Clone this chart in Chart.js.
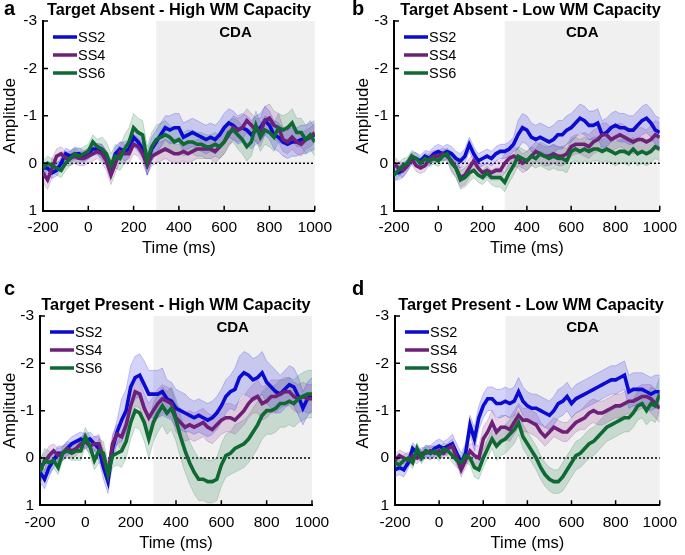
<!DOCTYPE html>
<html>
<head>
<meta charset="utf-8">
<script src="https://cdn.jsdelivr.net/npm/chart.js@4.4.0/dist/chart.umd.min.js"></script>
<style>
  body { margin: 0; background: #fff; }
  #wrap { position: relative; width: 685px; height: 555px; overflow: hidden; font-family: "Liberation Sans", Arial, sans-serif; color: #000; }
  canvas { position: absolute; }
  .lab { position: absolute; font-weight: bold; font-size: 20px; line-height: 20px; }
  .ttl { position: absolute; font-weight: bold; font-size: 16.3px; line-height: 16.3px; text-align: center; white-space: nowrap; }
</style>
</head>
<body>
<div id="wrap">
  <canvas id="cA" width="340" height="258" style="left:0;top:0"></canvas>
  <canvas id="cB" width="345" height="258" style="left:340px;top:0"></canvas>
  <canvas id="cC" width="340" height="283" style="left:0;top:270px"></canvas>
  <canvas id="cD" width="345" height="283" style="left:340px;top:270px"></canvas>
  <div class="lab" style="left:4px;top:-2px">a</div>
  <div class="lab" style="left:352px;top:-2px">b</div>
  <div class="lab" style="left:4px;top:278px">c</div>
  <div class="lab" style="left:352px;top:278px">d</div>
  <div class="ttl" style="left:43px;top:1px;width:272px">Target Absent - High WM Capacity</div>
  <div class="ttl" style="left:394px;top:1px;width:273px">Target Absent - Low WM Capacity</div>
  <div class="ttl" style="left:40px;top:295.5px;width:272px">Target Present - High WM Capacity</div>
  <div class="ttl" style="left:395px;top:295.5px;width:272px">Target Present - Low WM Capacity</div>
</div>
<script>
// time axis (ms) and ticks
const times = [-200,-180,-160,-140,-120,-100,-80,-60,-40,-20,0,20,40,60,80,100,120,140,160,180,200,220,240,260,280,300,320,340,360,380,400,420,440,460,480,500,520,540,560,580,600,620,640,660,680,700,720,740,760,780,800,820,840,860,880,900,920,940,960,980,1000];
const xTickValues = [-200, 0, 200, 400, 600, 800, 1000];
const yTickValues = [-3, -2, -1, 0, 1];
const seriesNames = ['SS2', 'SS4', 'SS6'];
const cdaStart = 300;
const cdaLabel = 'CDA';

// a - Target Absent, High WM Capacity
const absHighSS2 = [0.1,0.1,0.2,0.15,0.0,-0.2,-0.15,-0.2,-0.2,-0.15, -0.2,-0.3,-0.3,-0.25,-0.1,0.1,-0.2,-0.3,-0.25,-0.3, -0.55,-0.45,-0.3,0.0,-0.3,-0.45,-0.6,-0.75,-0.7,-0.75, -0.75,-0.55,-0.6,-0.65,-0.6,-0.55,-0.5,-0.55,-0.5,-0.6, -0.75,-0.85,-0.8,-0.7,-0.75,-0.7,-0.6,-0.7,-0.75,-0.9, -0.8,-0.6,-0.55,-0.45,-0.4,-0.45,-0.45,-0.5,-0.5,-0.55, -0.6];
const absHighSS4 = [0.2,0.35,0.1,-0.15,-0.2,-0.1,-0.1,-0.15,-0.1,-0.1, -0.15,-0.2,-0.25,-0.2,-0.05,0.25,0.0,-0.25,-0.2,-0.2, -0.4,-0.35,-0.2,0.05,-0.15,-0.2,-0.25,-0.3,-0.25,-0.2, -0.2,-0.25,-0.2,-0.25,-0.3,-0.3,-0.3,-0.3,-0.25,-0.35, -0.45,-0.6,-0.75,-0.7,-0.75,-0.9,-0.8,-0.7,-0.65,-0.9, -0.95,-0.8,-0.75,-0.5,-0.45,-0.55,-0.45,-0.4,-0.5,-0.55, -0.65];
const absHighSS6 = [0.1,0.0,0.05,0.1,0.15,0.0,-0.1,-0.2,-0.15,-0.2, -0.25,-0.45,-0.35,-0.3,-0.2,0.05,-0.15,-0.1,-0.3,-0.45, -0.75,-0.65,-0.6,-0.05,-0.35,-0.5,-0.55,-0.6,-0.55,-0.45, -0.5,-0.4,-0.45,-0.45,-0.4,-0.4,-0.35,-0.35,-0.4,-0.35, -0.45,-0.65,-0.7,-0.6,-0.5,-0.35,-0.45,-0.8,-0.55,-0.7, -0.65,-0.55,-0.75,-0.7,-0.75,-0.85,-0.65,-0.65,-0.5,-0.6, -0.45];

// b - Target Absent, Low WM Capacity
const absLowSS2 = [0.2,0.2,0.15,0.05,-0.1,-0.1,-0.05,-0.15,-0.1,-0.2, -0.25,-0.2,-0.25,-0.2,-0.1,-0.05,-0.15,-0.4,-0.2,-0.05, -0.1,-0.15,-0.1,-0.2,-0.25,-0.25,-0.3,-0.4,-0.6,-0.75, -0.7,-0.55,-0.5,-0.55,-0.5,-0.45,-0.5,-0.6,-0.6,-0.7, -0.75,-0.85,-0.95,-0.9,-0.8,-0.8,-0.85,-0.6,-0.65,-0.75, -0.8,-0.75,-0.75,-0.7,-0.7,-0.8,-0.9,-0.95,-0.85,-0.7, -0.65];
const absLowSS4 = [0.0,0.1,0.15,0.05,-0.1,0.05,0.1,0.05,-0.1,-0.15, -0.15,-0.2,-0.15,-0.05,0.1,0.3,0.25,0.1,-0.05,0.1, 0.2,0.15,0.2,0.15,0.15,0.0,-0.1,-0.15,-0.1,0.0, -0.05,-0.15,-0.25,-0.2,-0.15,-0.15,-0.2,-0.15,-0.15,-0.2, -0.35,-0.4,-0.4,-0.4,-0.35,-0.45,-0.5,-0.6,-0.6,-0.5, -0.55,-0.6,-0.55,-0.5,-0.45,-0.5,-0.5,-0.45,-0.5,-0.6, -0.55];
const absLowSS6 = [0.25,0.15,0.05,0.0,-0.15,-0.1,0.0,-0.1,-0.05,-0.1, -0.05,-0.15,-0.2,0.0,0.1,0.35,0.3,0.2,0.15,0.25, 0.3,0.2,0.3,0.3,0.3,0.4,0.2,0.05,-0.15,-0.1, -0.05,-0.15,-0.1,-0.2,-0.15,-0.1,-0.15,-0.1,-0.1,-0.05, -0.25,-0.3,-0.25,-0.3,-0.25,-0.3,-0.3,-0.25,-0.3,-0.25, -0.2,-0.25,-0.25,-0.2,-0.3,-0.2,-0.25,-0.2,-0.25,-0.35, -0.3];

// c - Target Present, High WM Capacity
const presHighSS2 = [0.3,0.45,0.2,0.05,-0.1,-0.1,-0.2,-0.3,-0.35,-0.4, -0.35,-0.4,-0.3,-0.2,0.2,0.5,-0.2,-0.55,-0.8,-1.0, -1.5,-1.7,-1.75,-1.55,-1.35,-1.35,-1.35,-1.4,-1.25,-1.2, -1.05,-1.0,-0.95,-0.9,-0.85,-0.9,-0.85,-0.8,-0.85,-0.95, -1.1,-1.3,-1.4,-1.45,-1.7,-1.8,-1.75,-1.65,-1.7,-1.8, -1.6,-1.5,-1.4,-1.35,-1.45,-1.55,-1.5,-1.3,-1.05,-1.25, -1.35];
const presHighSS4 = [0.2,0.1,-0.05,-0.15,-0.05,-0.1,-0.2,-0.15,-0.2,-0.3, -0.35,-0.25,-0.3,-0.3,0.0,0.35,-0.3,-0.5,-0.45,-0.7, -1.1,-1.4,-1.35,-1.05,-0.85,-1.0,-1.15,-1.25,-1.2,-1.15, -0.85,-0.75,-0.65,-0.7,-0.65,-0.7,-0.75,-0.65,-0.6,-0.7, -0.8,-0.85,-0.85,-0.8,-0.9,-1.0,-1.15,-1.25,-1.3,-1.15, -1.2,-1.3,-1.3,-1.35,-1.4,-1.4,-1.3,-1.25,-1.3,-1.25, -1.25];
const presHighSS6 = [0.3,0.05,0.1,0.05,0.2,-0.1,-0.15,-0.1,-0.15,-0.15, -0.45,-0.25,0.05,-0.15,-0.1,0.35,-0.05,-0.1,-0.15,-0.35, -0.75,-1.0,-0.95,-0.75,-0.4,-0.75,-0.95,-1.1,-0.95,-1.05, -0.8,-0.45,-0.15,0.1,0.3,0.45,0.45,0.5,0.5,0.45, 0.15,-0.05,-0.1,-0.2,-0.25,-0.3,-0.4,-0.55,-0.7,-0.9, -1.0,-1.0,-1.05,-1.15,-1.15,-1.2,-1.15,-1.25,-1.3,-1.35, -1.35];

// d - Target Present, Low WM Capacity
const presLowSS2 = [0.25,0.2,0.25,0.1,-0.2,-0.1,-0.05,-0.15,-0.1,-0.2, -0.25,-0.2,-0.25,-0.3,-0.1,0.1,-0.1,-0.7,-0.4,-0.85, -1.1,-1.25,-1.25,-1.15,-1.15,-1.2,-1.15,-1.2,-1.4,-1.2, -1.1,-1.05,-1.05,-1.0,-0.95,-0.9,-1.0,-1.15,-1.2,-1.3, -1.15,-1.25,-1.3,-1.35,-1.4,-1.45,-1.5,-1.55,-1.6,-1.65, -1.65,-1.7,-1.75,-1.4,-1.45,-1.45,-1.45,-1.4,-1.35,-1.4, -1.4];
const presLowSS4 = [0.05,-0.05,0.0,0.05,-0.05,0.0,-0.1,-0.1,-0.15,-0.1, -0.15,-0.1,-0.2,-0.25,0.0,0.25,0.05,-0.15,-0.05,0.0, -0.4,-0.55,-0.75,-0.55,-0.65,-0.65,-0.6,-0.75,-0.9,-0.8, -0.8,-0.75,-0.7,-0.55,-0.45,-0.55,-0.65,-0.6,-0.55,-0.55, -0.65,-0.75,-0.8,-0.85,-0.95,-1.0,-0.95,-0.95,-1.0,-1.05, -1.1,-1.1,-1.15,-1.2,-1.2,-1.25,-1.3,-1.3,-1.25,-1.15, -1.05];
const presLowSS6 = [0.1,0.15,0.05,0.0,0.1,-0.2,0.0,-0.15,-0.1,-0.15, -0.05,-0.2,-0.15,-0.05,0.05,0.1,-0.05,0.0,0.2,0.25, 0.0,-0.2,-0.4,-0.25,-0.35,-0.4,-0.5,-0.6,-0.75,-0.45, -0.3,-0.15,0.0,0.2,0.35,0.45,0.5,0.5,0.4,0.25, 0.1,-0.05,-0.1,-0.2,-0.3,-0.35,-0.45,-0.55,-0.65,-0.7, -0.75,-0.8,-0.85,-0.85,-0.95,-1.1,-1.15,-1.0,-1.15,-1.1, -1.35];

// half-width of shaded error bands, per 100 ms bin (-200 ... 1000)
const semBins = [-200,-100,0,100,200,300,400,500,600,700,800,900,1000];
const absHighSem = [[0.12,0.12,0.12,0.15,0.2,0.25,0.3,0.3,0.3,0.3,0.3,0.3,0.3],[0.2,0.15,0.15,0.2,0.2,0.2,0.2,0.2,0.25,0.25,0.3,0.25,0.2],[0.15,0.15,0.15,0.25,0.3,0.3,0.25,0.25,0.25,0.3,0.3,0.3,0.3]];
const absLowSem = [[0.15,0.12,0.15,0.15,0.15,0.15,0.3,0.3,0.3,0.3,0.3,0.3,0.3],[0.15,0.12,0.12,0.2,0.15,0.2,0.2,0.2,0.2,0.25,0.25,0.25,0.3],[0.15,0.12,0.12,0.2,0.15,0.2,0.2,0.25,0.25,0.25,0.25,0.25,0.25]];
const presHighSem = [[0.2,0.15,0.15,0.25,0.45,0.5,0.4,0.35,0.35,0.45,0.45,0.4,0.35],[0.2,0.15,0.15,0.2,0.3,0.3,0.3,0.3,0.3,0.3,0.35,0.3,0.3],[0.25,0.15,0.2,0.25,0.35,0.4,0.45,0.45,0.45,0.5,0.5,0.5,0.5]];
const presLowSem = [[0.15,0.12,0.15,0.2,0.25,0.3,0.3,0.3,0.3,0.3,0.3,0.35,0.35],[0.12,0.12,0.12,0.15,0.25,0.25,0.25,0.2,0.2,0.25,0.25,0.25,0.3],[0.12,0.12,0.12,0.15,0.2,0.3,0.25,0.25,0.3,0.3,0.3,0.3,0.35]];

// colours
const lineColors = ['#0a0ad2', '#6e2078', '#0f6932'];
const bandColors = ['rgba(60,60,235,0.22)', 'rgba(140,60,150,0.20)', 'rgba(40,130,80,0.20)'];
const bandEdges = ['rgba(60,60,235,0.35)', 'rgba(140,60,150,0.30)', 'rgba(40,130,80,0.30)'];

const FONT = '"Liberation Sans", Arial, sans-serif';
Chart.defaults.font.family = FONT;
Chart.defaults.color = '#000';

function semAt(sem, t) {
    return sem[semBins.indexOf(Math.round((t + 200) / 100) * 100 - 200)];
}

// gray CDA window, dotted zero line, inward ticks, legend
const decor = {
    id: 'decor',
    beforeDraw(chart) {
        const { ctx, chartArea: a, scales: { x } } = chart;
        const x0 = x.getPixelForValue(cdaStart);
        ctx.save();
        ctx.fillStyle = '#f0f0f0';
        ctx.fillRect(x0, a.top, a.right - x0, a.bottom - a.top);
        ctx.restore();
    },
    beforeDatasetsDraw(chart) {
        const { ctx, chartArea: a, scales: { y } } = chart;
        const y0 = y.getPixelForValue(0);
        ctx.save();
        ctx.strokeStyle = '#000';
        ctx.lineWidth = 1.5;
        ctx.setLineDash([2, 2]);
        ctx.beginPath();
        ctx.moveTo(a.left, y0);
        ctx.lineTo(a.right, y0);
        ctx.stroke();
        ctx.restore();
    },
    afterDraw(chart) {
        const { ctx, chartArea: a, scales: { x, y } } = chart;
        ctx.save();
        ctx.strokeStyle = '#000';
        ctx.lineWidth = 1.5;
        ctx.beginPath();
        yTickValues.forEach(v => { const p = y.getPixelForValue(v); ctx.moveTo(a.left, p); ctx.lineTo(a.left + 5, p); });
        xTickValues.forEach(v => { const p = x.getPixelForValue(v); ctx.moveTo(p, a.bottom); ctx.lineTo(p, a.bottom - 5); });
        ctx.stroke();

        // CDA label
        const x0 = x.getPixelForValue(cdaStart);
        ctx.fillStyle = '#000';
        ctx.font = 'bold 15px ' + FONT;
        ctx.textAlign = 'center';
        ctx.textBaseline = 'middle';
        ctx.fillText(cdaLabel, (x0 + a.right) / 2, a.top + 12);

        // legend
        ctx.font = '14.5px ' + FONT;
        ctx.textAlign = 'left';
        seriesNames.forEach((n, k) => {
            const ly = a.top + 16 + 18 * k;
            ctx.strokeStyle = lineColors[k];
            ctx.lineWidth = 3.5;
            ctx.beginPath();
            ctx.moveTo(a.left + 10, ly);
            ctx.lineTo(a.left + 34, ly);
            ctx.stroke();
            ctx.fillStyle = '#000';
            ctx.fillText(n, a.left + 35, ly + 1);
        });
        ctx.restore();
    }
};

function makePanel(id, means, sems, p) {
    const datasets = [];
    means.forEach((m, k) => {
        datasets.push({
            data: times.map((t, i) => ({ x: t, y: m[i] + semAt(sems[k], t) })),
            fill: '+1', backgroundColor: bandColors[k], borderColor: bandEdges[k],
            borderWidth: 0.8, pointRadius: 0, order: 20 + 2 * k
        });
        datasets.push({
            data: times.map((t, i) => ({ x: t, y: m[i] - semAt(sems[k], t) })),
            fill: false, borderColor: bandEdges[k], borderWidth: 0.8, pointRadius: 0, order: 21 + 2 * k
        });
    });
    means.forEach((m, k) => {
        datasets.push({
            label: seriesNames[k],
            data: times.map((t, i) => ({ x: t, y: m[i] })),
            fill: false, borderColor: lineColors[k], borderWidth: 3.6,
            pointRadius: 0, order: 2 - k
        });
    });

    new Chart(document.getElementById(id), {
        type: 'line',
        data: { datasets },
        options: {
            responsive: false, animation: false, events: [],
            layout: { padding: p.pad },
            plugins: { legend: { display: false }, tooltip: { enabled: false } },
            scales: {
                x: {
                    type: 'linear', min: -200, max: 1000,
                    afterBuildTicks: s => { s.ticks = xTickValues.map(v => ({ value: v })); },
                    afterFit: s => { s.height = p.xHeight; },
                    ticks: { font: { size: 15.5 }, padding: 8, maxRotation: 0, autoSkip: false, callback: v => String(v) },
                    grid: { display: false, drawTicks: false },
                    border: { display: true, color: '#000', width: 2 },
                    title: { display: true, text: 'Time (ms)', font: { size: 16.5 }, padding: 0 }
                },
                y: {
                    type: 'linear', min: -3, max: 1, reverse: true,
                    afterBuildTicks: s => { s.ticks = yTickValues.map(v => ({ value: v })); },
                    afterFit: s => { s.width = p.yWidth; },
                    ticks: { font: { size: 15.5 }, padding: 6, callback: v => String(v) },
                    grid: { display: false, drawTicks: false },
                    border: { display: true, color: '#000', width: 2 },
                    title: { display: true, text: 'Amplitude', font: { size: 17 }, padding: 0 }
                }
            }
        },
        plugins: [decor]
    });
}

makePanel('cA', [absHighSS2, absHighSS4, absHighSS6], absHighSem, { pad: { top: 21, right: 25, left: 0, bottom: 0 }, yWidth: 43, xHeight: 47.3 });
makePanel('cB', [absLowSS2, absLowSS4, absLowSS6], absLowSem, { pad: { top: 21, right: 18, left: 13, bottom: 0 }, yWidth: 41, xHeight: 47.3 });
makePanel('cC', [presHighSS2, presHighSS4, presHighSS6], presHighSem, { pad: { top: 46, right: 28, left: 0, bottom: 0 }, yWidth: 40, xHeight: 47.7 });
makePanel('cD', [presLowSS2, presLowSS4, presLowSS6], presLowSem, { pad: { top: 46, right: 18, left: 13, bottom: 0 }, yWidth: 42, xHeight: 47.7 });
</script>
</body>
</html>
